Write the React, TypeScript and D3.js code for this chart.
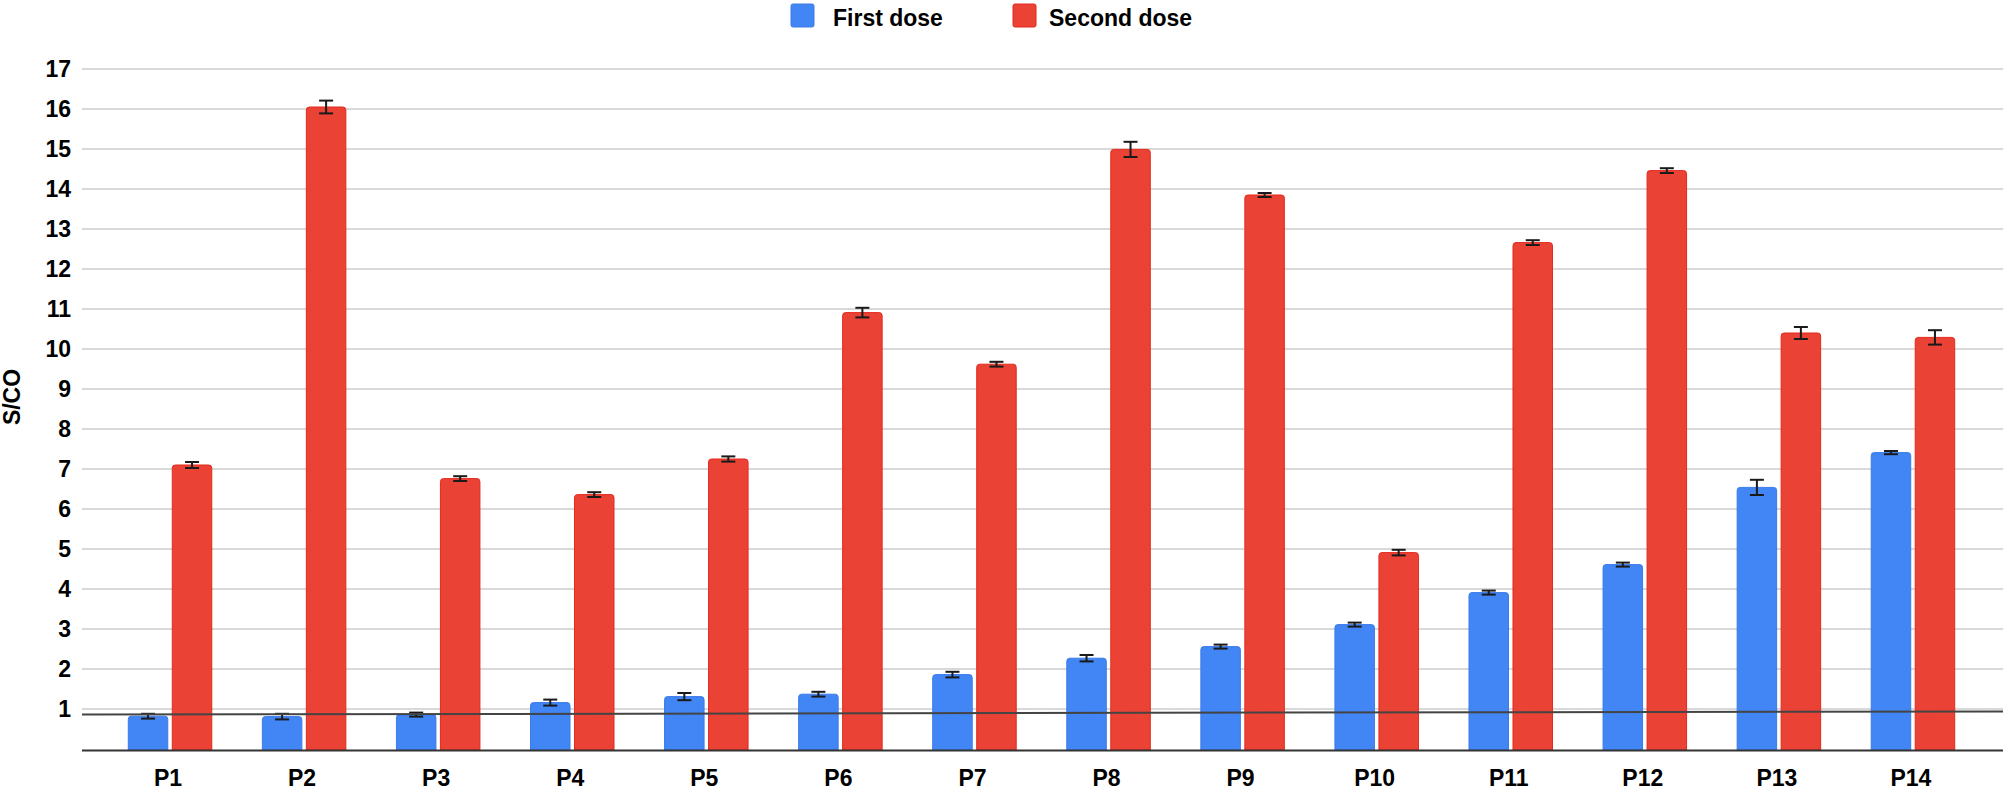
import * as d3 from 'd3';

const categories = ['P1', 'P2', 'P3', 'P4', 'P5', 'P6', 'P7', 'P8', 'P9', 'P10', 'P11', 'P12', 'P13', 'P14'];
const seriesNames = ['First dose', 'Second dose'];
const firstDose = [0.82, 0.81, 0.86, 1.16, 1.31, 1.37, 1.86, 2.27, 2.56, 3.11, 3.91, 4.61, 6.54, 7.41];
const firstDoseErr = [0.06, 0.07, 0.05, 0.075, 0.09, 0.06, 0.07, 0.08, 0.05, 0.05, 0.05, 0.05, 0.19, 0.04];
const secondDose = [7.1, 16.05, 6.76, 6.36, 7.25, 10.91, 9.62, 14.99, 13.85, 4.91, 12.66, 14.46, 10.4, 10.29];
const secondDoseErr = [0.075, 0.16, 0.06, 0.06, 0.065, 0.12, 0.06, 0.19, 0.05, 0.07, 0.06, 0.06, 0.15, 0.18];
const yTicks = [1, 2, 3, 4, 5, 6, 7, 8, 9, 10, 11, 12, 13, 14, 15, 16, 17];
// hand-drawn cut-off line, slightly tilted
const cutoffStart = 0.86;
const cutoffEnd = 0.94;

const fills = ['#4285f4', '#ea4335'];
const strokes = ['#3b7be8', '#e5291d'];
const font = '"Liberation Sans", Arial, sans-serif';

const width = 2008;
const height = 791;
const plotLeft = 82;
const plotRight = 2003;

// rect with rounded top corners only
function topRounded(x: number, y: number, w: number, h: number, r: number) {
  const p = d3.path();
  p.moveTo(x, y + h);
  p.lineTo(x, y + r);
  p.quadraticCurveTo(x, y, x + r, y);
  p.lineTo(x + w - r, y);
  p.quadraticCurveTo(x + w, y, x + w, y + r);
  p.lineTo(x + w, y + h);
  p.closePath();
  return p.toString();
}

export default function App() {
  const y = d3.scaleLinear().domain([0, 17]).range([749, 69]);
  const x0 = d3.scaleBand<string>().domain(categories).range([103, 1980]);
  const groupW = 83.5;
  const x1 = d3
    .scaleBand<string>()
    .domain(seriesNames)
    .range([(x0.bandwidth() - groupW) / 2, (x0.bandwidth() + groupW) / 2])
    .paddingInner(0.102);

  const values = [firstDose, secondDose];
  const errors = [firstDoseErr, secondDoseErr];
  const legendX = [791, 1013];
  const legendTextX = [833, 1049];

  return (
    <svg width={width} height={height} style={{ position: 'absolute', left: 0, top: 0, background: '#fff' }}>
      {/* legend */}
      {seriesNames.map((s, i) => (
        <g key={s}>
          <rect x={legendX[i]} y={4} width={23} height={23} rx={2} fill={fills[i]} stroke={strokes[i]} strokeWidth={1} />
          <text x={legendTextX[i]} y={26} fontFamily={font} fontWeight="bold" fontSize={23} fill="#000">
            {s}
          </text>
        </g>
      ))}

      {/* gridlines + y labels */}
      {yTicks.map((t) => (
        <g key={t}>
          <line x1={plotLeft} x2={plotRight} y1={y(t)} y2={y(t)} stroke="#cccccc" strokeWidth={1.6} />
          <text
            x={71}
            y={y(t)}
            dy="0.35em"
            textAnchor="end"
            fontFamily={font}
            fontWeight="bold"
            fontSize={23}
            fill="#000"
          >
            {t}
          </text>
        </g>
      ))}

      <text
        transform={`translate(20,397) rotate(-90)`}
        textAnchor="middle"
        fontFamily={font}
        fontWeight="bold"
        fontSize={23}
        fill="#000"
      >
        S/CO
      </text>

      {/* bars */}
      {categories.map((c, ci) => (
        <g key={c} transform={`translate(${x0(c)},0)`}>
          {seriesNames.map((s, si) => {
            const v = values[si][ci];
            const e = errors[si][ci];
            const bx = x1(s)!;
            const bw = x1.bandwidth();
            const cx = bx + bw / 2;
            return (
              <g key={s}>
                <path
                  d={topRounded(bx, y(v), bw, y(0) - y(v) + 1, 3)}
                  fill={fills[si]}
                  stroke={strokes[si]}
                  strokeWidth={1}
                />
                <g stroke="#1a1a1a" strokeWidth={2}>
                  <line x1={cx} x2={cx} y1={y(v + e)} y2={y(v - e)} />
                  <line x1={cx - 7} x2={cx + 7} y1={y(v + e)} y2={y(v + e)} />
                  <line x1={cx - 7} x2={cx + 7} y1={y(v - e)} y2={y(v - e)} />
                </g>
              </g>
            );
          })}
          <text
            x={x0.bandwidth() / 2 - 2}
            y={786}
            textAnchor="middle"
            fontFamily={font}
            fontWeight="bold"
            fontSize={23}
            fill="#000"
          >
            {c}
          </text>
        </g>
      ))}

      {/* axis baseline */}
      <line x1={plotLeft} x2={plotRight} y1={750.5} y2={750.5} stroke="#333" strokeWidth={2} />

      {/* cut-off line */}
      <line
        x1={plotLeft}
        x2={plotRight}
        y1={y(cutoffStart)}
        y2={y(cutoffEnd)}
        stroke="#444"
        strokeWidth={2}
      />
    </svg>
  );
}
